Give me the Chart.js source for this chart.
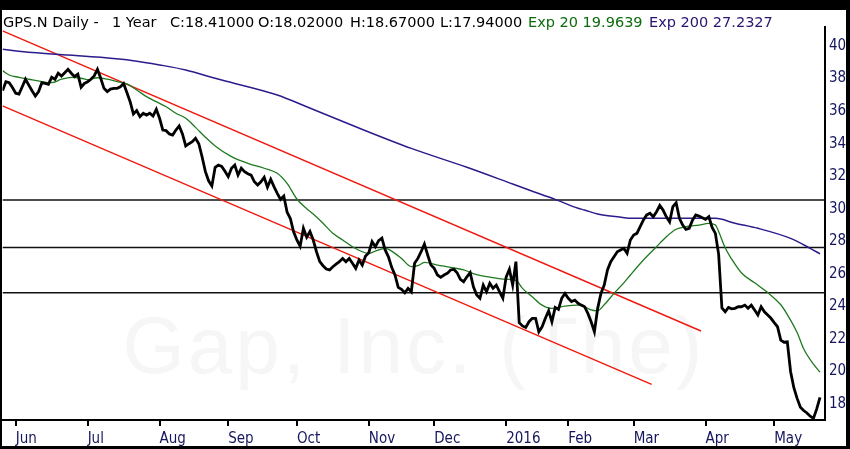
<!DOCTYPE html>
<html><head><meta charset="utf-8">
<script src="https://cdn.jsdelivr.net/npm/chart.js@4.4.1/dist/chart.umd.min.js"></script>
<style>
html,body{margin:0;padding:0;background:#000;overflow:hidden;}
canvas{display:block;}
</style></head><body>
<canvas id="c" width="850" height="449"></canvas>
<script>
// ---- data ----
const monthIdx = [4, 26, 48, 69, 90, 112, 132, 154, 173, 193, 215, 236];
const monthLabels = ['Jun','Jul','Aug','Sep','Oct','Nov','Dec','2016','Feb','Mar','Apr','May'];
const yTicks = [18, 20, 22, 24, 26, 28, 30, 32, 34, 36, 38, 40];

const closes = [
37.26,37.81,37.75,37.45,37.1,37.05,37.5,37.96,37.6,37.25,
36.93,37.2,37.75,37.7,37.65,38.08,37.96,38.33,38.16,38.36,
38.57,38.33,38.12,38.27,37.47,37.7,37.8,37.96,38.16,38.57,
38.02,37.4,37.2,37.35,37.4,37.4,37.5,37.7,37.15,36.58,
35.82,36.03,35.66,35.87,35.76,35.87,35.7,36.11,35.56,34.84,
34.8,34.6,34.53,34.84,35.09,34.6,33.86,34.0,34.12,34.33,
34.0,33.2,32.3,31.72,31.4,32.55,32.69,32.6,32.3,31.97,
32.49,32.69,32.07,32.49,32.28,32.15,32.07,31.66,31.46,31.66,
31.93,31.32,31.81,31.36,30.95,30.58,30.78,29.8,29.4,28.59,
28.08,27.7,28.8,28.25,28.6,28.08,27.36,26.75,26.5,26.3,
26.24,26.44,26.6,26.75,26.95,26.75,26.95,26.65,26.34,26.85,
26.54,27.1,27.3,27.98,27.67,28.04,28.2,27.47,27.05,26.4,
25.93,25.17,25.05,24.84,25.11,24.9,26.65,26.95,27.36,27.83,
27.16,26.54,26.34,25.93,25.79,25.93,26.03,26.24,26.28,26.07,
25.66,25.52,25.82,26.07,25.21,24.7,24.5,25.31,24.9,25.42,
25.11,25.31,24.9,24.5,25.8,26.28,25.31,26.75,23.0,22.8,
22.71,23.06,23.27,23.27,22.44,22.75,23.27,23.73,23.06,23.94,
23.82,24.5,24.8,24.5,24.3,24.39,24.19,24.08,23.98,23.57,
23.06,22.44,23.88,24.8,25.31,26.24,26.75,27.05,27.36,27.47,
27.57,27.26,28.08,28.39,28.49,28.9,29.31,29.62,29.72,29.51,
29.82,30.2,29.92,29.51,29.2,30.13,30.37,29.41,29.0,28.74,
28.8,29.3,29.62,29.55,29.45,29.35,29.51,28.85,28.49,27.2,
23.9,23.67,23.94,23.85,23.88,23.98,23.98,24.08,23.88,24.08,
23.78,23.47,23.98,23.67,23.47,23.27,23.0,22.75,21.93,21.8,
21.83,20.0,19.0,18.35,17.8,17.6,17.45,17.25,17.12,17.7,
18.41
];

const ema20Idx = [0,2,5,8,12,15,18,21,24,26,29,32,35,38,41,44,47,50,53,56,59,62,65,70,75,80,84,87,90,93,95,98,101,104,107,110,112,114,117,119,122,125,127,129,133,137,141,145,149,153,157,159,162,165,168,172,176,178,180,182,184,187,190,192,196,200,203,206,209,213,216,218,219,221,223,226,230,234,238,240,243,245,248,250];
const ema20Val = [38.49,38.22,38.08,37.96,37.81,37.75,37.96,38.08,38.02,37.93,38.05,37.96,37.81,37.67,37.3,36.89,36.58,36.27,35.87,35.56,35.0,34.4,33.86,33.2,32.79,32.49,32.18,31.56,30.6,30.0,29.68,29.11,28.49,28.08,27.67,27.36,27.26,27.4,27.57,27.4,26.95,26.45,26.5,26.7,26.54,26.4,26.24,25.95,25.8,25.68,25.6,25.11,24.59,24.08,23.88,24.02,24.08,23.98,23.78,23.73,24.1,24.8,25.45,25.93,26.85,27.67,28.28,28.74,28.9,29.0,29.1,29.0,28.6,27.6,26.9,26.05,25.45,24.85,24.1,23.5,22.4,21.4,20.45,19.96];

const ema200Idx = [0,9,20,30,40,48,56,65,67,84,93,108,125,142,156,161,169,176,178,182,186,188,193,203,213,218,224,231,241,247,250];
const ema200Val = [39.8,39.6,39.45,39.31,39.1,38.84,38.53,38.02,37.91,36.99,36.27,35.04,33.71,32.55,31.52,31.15,30.58,30.03,29.92,29.68,29.55,29.51,29.41,29.41,29.41,29.41,29.11,28.8,28.18,27.57,27.23];

const channelUpperIdx = [-0.04, 213.6];
const channelUpperVal = [40.93, 22.49];
const channelLowerIdx = [-0.04, 198.5];
const channelLowerVal = [36.32, 19.21];

const levels = [30.54, 27.62, 24.84];

const headerParts = ['GPS.N Daily -', '1 Year', 'C:18.41000', 'O:18.02000', 'H:18.67000', 'L:17.94000', 'Exp 20 19.9639', 'Exp 200 27.2327'];
const watermarkText = 'Gap, Inc. (The)';

// ---- layout / style ----
const X_MIN = -0.04, X_MAX = 251.53, Y_MIN = 17.02, Y_MAX = 41.17;
const headerX = [3, 112, 170, 258, 350, 440, 528, 649];
const headerColors = ['#000','#000','#000','#000','#000','#000','#0b6b0b','#2a1470'];
const AXIS_TEXT = '#16165e';
const zip = (xs, ys) => xs.map((x, i) => ({x: x, y: ys[i]}));

const framePlugin = {
  id: 'frame',
  beforeDraw(chart) {
    const c = chart.ctx;
    c.save();
    c.fillStyle = '#000';
    c.fillRect(0, 0, chart.width, chart.height);
    c.fillStyle = '#fff';
    c.fillRect(2, 10, 844, 436);
    c.restore();
  }
};

const watermarkPlugin = {
  id: 'watermark',
  beforeDatasetsDraw(chart) {
    const c = chart.ctx;
    c.save();
    c.font = '80px "Liberation Sans", Arial, sans-serif';
    if ('letterSpacing' in c) c.letterSpacing = '3px';
    c.fillStyle = '#f6f6f6';
    c.textAlign = 'center';
    c.textBaseline = 'alphabetic';
    c.fillText(watermarkText, 414, 373);
    c.restore();
  }
};

const headerPlugin = {
  id: 'header',
  afterDraw(chart) {
    const c = chart.ctx;
    c.save();
    c.font = '14.5px "DejaVu Sans", sans-serif';
    c.textBaseline = 'alphabetic';
    c.textAlign = 'left';
    headerParts.forEach((t, i) => {
      c.fillStyle = headerColors[i];
      c.fillText(t, headerX[i], 26.5);
    });
    c.restore();
  }
};

const datasets = [
  {data: zip(closes.map((v, i) => i), closes), borderColor: '#000', borderWidth: 2.8, tension: 0},
  {data: zip(ema20Idx, ema20Val), borderColor: '#1f7a1f', borderWidth: 1.3, cubicInterpolationMode: 'monotone'},
  {data: zip(ema200Idx, ema200Val), borderColor: '#2b1c8c', borderWidth: 1.5, cubicInterpolationMode: 'monotone'},
  {data: zip(channelUpperIdx, channelUpperVal), borderColor: '#f01a10', borderWidth: 1.5},
  {data: zip(channelLowerIdx, channelLowerVal), borderColor: '#f01a10', borderWidth: 1.5}
];
levels.forEach(l => datasets.push({data: zip([X_MIN, X_MAX], [l, l]), borderColor: '#111', borderWidth: 1.3}));
datasets.forEach(d => { d.pointRadius = 0; d.fill = false; });

new Chart(document.getElementById('c'), {
  type: 'line',
  data: {datasets: datasets},
  options: {
    responsive: false,
    animation: false,
    devicePixelRatio: 1,
    layout: {padding: {left: 2.5, top: 27, right: 0, bottom: 0}},
    plugins: {legend: {display: false}, tooltip: {enabled: false}, title: {display: false}},
    scales: {
      x: {
        type: 'linear', position: 'bottom', min: X_MIN, max: X_MAX,
        afterBuildTicks: s => { s.ticks = monthIdx.map(v => ({value: v})); },
        afterFit: s => { s.height = 29; },
        ticks: {
          autoSkip: false, maxRotation: 0, minRotation: 0, align: 'start', padding: 4,
          color: AXIS_TEXT,
          font: {family: "'DejaVu Sans Condensed', 'DejaVu Sans', sans-serif", size: 15},
          callback: v => { const k = monthIdx.indexOf(v); return k < 0 ? '' : monthLabels[k]; }
        },
        grid: {display: true, drawOnChartArea: false, drawTicks: true, tickLength: 6, color: '#000', lineWidth: 2},
        border: {display: true, color: '#000', width: 2}
      },
      y: {
        type: 'linear', position: 'right', min: Y_MIN, max: Y_MAX,
        afterBuildTicks: s => { s.ticks = yTicks.map(v => ({value: v})); },
        afterFit: s => { s.width = 25; },
        ticks: {
          padding: 4, crossAlign: 'near', color: AXIS_TEXT,
          font: {family: "'DejaVu Sans Condensed', 'DejaVu Sans', sans-serif", size: 15}
        },
        grid: {display: true, drawOnChartArea: false, drawTicks: false},
        border: {display: true, color: '#000', width: 2}
      }
    }
  },
  plugins: [framePlugin, watermarkPlugin, headerPlugin]
});
</script>
</body></html>
